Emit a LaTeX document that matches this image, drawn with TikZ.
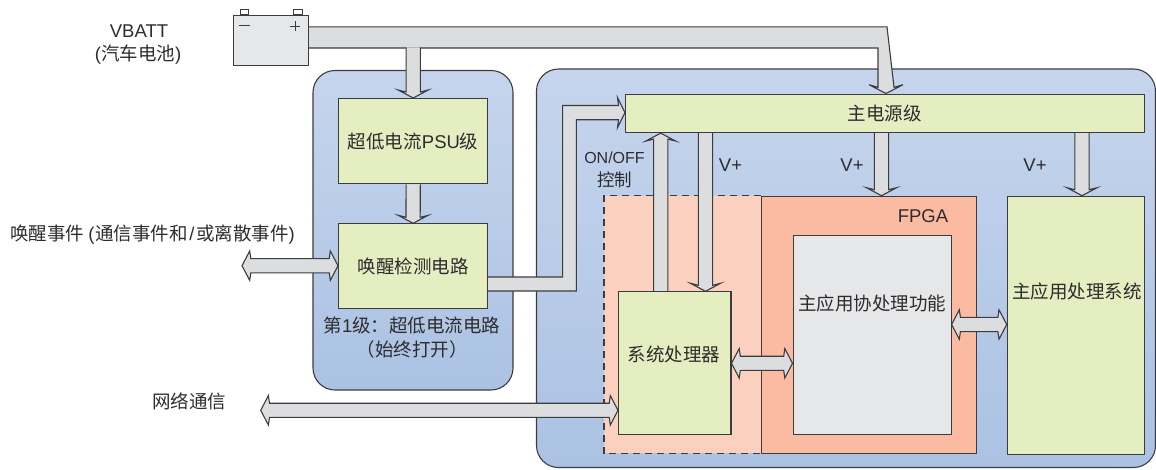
\documentclass[tikz,border=0pt]{standalone}
\usepackage{fontspec}
\setmainfont{Liberation Sans}
\newfontfamily\cjk{Noto Sans CJK SC}
\usetikzlibrary{calc}
\definecolor{ink}{HTML}{2E2C2D}
\definecolor{edge}{HTML}{3C3C3E}
\definecolor{pipegray}{HTML}{DCDDDF}
\definecolor{boxgreen}{HTML}{E5EEC0}
\definecolor{panelTop}{HTML}{C6D5ED}
\definecolor{panelBot}{HTML}{ABC2E3}
\definecolor{salmonA}{HTML}{FCD0BE}
\definecolor{salmonB}{HTML}{FBBBA3}
\definecolor{lightgray}{HTML}{E6E7E8}
\newcommand{\C}[1]{{\cjk #1}}
\pgfdeclarelayer{bg}
\pgfdeclarelayer{pipes}
\pgfsetlayers{bg,pipes,main}
\tikzset{
  pipepoly/.style={draw=edge,line width=1.1pt,fill=pipegray,line join=miter},
  greenbox/.style={draw=edge,line width=1.1pt,fill=boxgreen,inner sep=0pt,anchor=north west,text=ink},
  panel/.style={draw=edge,line width=1.1pt,rounded corners=22pt,top color=panelTop,bottom color=panelBot},
  lbl/.style={inner sep=0pt,text=ink,align=center},
  every node/.style={font=\fontsize{18.5}{24}\selectfont}
}
% single block arrow from named point #1 to named point #2
\newcommand{\pipeS}[2]{%
  \coordinate (hj) at ($(#2)!6pt!(#1)$);
  \coordinate (hw) at ($(#2)!8pt!(#1)$);
  \draw[pipepoly] ($(#1)!7.1pt!90:(#2)$) -- ($(hj)!7.1pt!-90:(#1)$) -- ($(hw)!15pt!-90:(#1)$) -- (#2)
    -- ($(hw)!15pt!90:(#1)$) -- ($(hj)!7.1pt!90:(#1)$) -- ($(#1)!7.1pt!-90:(#2)$);
}
% double block arrow between named points #1 and #2
\newcommand{\pipeD}[2]{%
  \coordinate (aj) at ($(#1)!8.8pt!(#2)$);
  \coordinate (aw) at ($(#1)!7.7pt!(#2)$);
  \coordinate (bj) at ($(#2)!8.8pt!(#1)$);
  \coordinate (bw) at ($(#2)!7.7pt!(#1)$);
  \draw[pipepoly] (#1) -- ($(aw)!14.7pt!90:(#2)$) -- ($(aj)!7.1pt!90:(#2)$) -- ($(bj)!7.1pt!-90:(#1)$) -- ($(bw)!14.7pt!-90:(#1)$)
    -- (#2) -- ($(bw)!14.7pt!90:(#1)$) -- ($(bj)!7.1pt!90:(#1)$) -- ($(aj)!7.1pt!-90:(#2)$) -- ($(aw)!14.7pt!-90:(#2)$) -- cycle;
}
\begin{document}
\begin{tikzpicture}[x=1pt,y=-1pt]
\useasboundingbox (0,0) rectangle (1156,469);
\begin{pgfonlayer}{bg}
  \path[panel] (313,70.5) rectangle (513,390);
  \path[panel] (536.5,69) rectangle (1155.5,467.5);
  \fill[salmonA] (604,195.7) rectangle (761,453.3);
  \draw[edge,line width=1.1pt,dash pattern=on 7pt off 5pt] (761,195.7) -- (604,195.7) -- (604,453.3) -- (761,453.3);
  \node[draw=edge,line width=1.1pt,fill=salmonB,inner sep=0pt,anchor=north west,minimum width=215.4pt,minimum height=257.6pt] (fpga) at (760.6,195.7) {};
\end{pgfonlayer}
% boxes
\node[greenbox,minimum width=149.3pt,minimum height=85.3pt] (psu) at (338,98) {\C{超低电流}PSU\C{级}};
\node[greenbox,minimum width=149pt,minimum height=84.7pt] (wake) at (338,223.3) {\C{唤醒检测电路}};
\node[greenbox,minimum width=518.5pt,minimum height=38.5pt] (mainps) at (625,93.5) {\C{主电源级}};
\node[greenbox,minimum width=112.4pt,minimum height=142.7pt] (sys) at (618,291.3) {};
\node[draw=edge,line width=1.1pt,fill=lightgray,inner sep=0pt,anchor=north west,minimum width=158pt,minimum height=199.3pt] (cop) at (792.5,235) {};
\node[greenbox,minimum width=137.3pt,minimum height=258.3pt] (app) at (1006.7,195.7) {};
% battery
\node[draw=edge,line width=1.1pt,fill=lightgray,inner sep=0pt,anchor=north west,minimum width=74.5pt,minimum height=50pt] (batt) at (233,14.7) {};
\draw[edge,line width=0.9pt,fill=white] (240,14.7) rectangle (248.7,9);
\draw[edge,line width=0.9pt,fill=white] (293.7,14.7) rectangle (302.3,9);
\draw[edge,line width=0.9pt] (239,25.7) -- (250,25.7);
\draw[edge,line width=0.9pt] (290,26) -- (300,26) (295,21) -- (295,31);
% connectors
\begin{pgfonlayer}{pipes}
  \coordinate (busA) at (batt.east |- 0,26.8);
  \coordinate (busB) at (batt.east |- 0,48);
  \draw[pipepoly]
    (busA) -- (887,26.8) -- (894,87.3) -- (903,84.7) -- (mainps.north -| 886,0) -- (869,84.7) -- (878,87.3) -- (878,48) -- (busB);
  \coordinate (tap) at (psu.north |- 0,47.4);
  \pipeS{tap}{psu.north}
  \pipeS{psu.south}{wake.north}
  \coordinate (wkA) at (wake.east |- 0,277);
  \coordinate (wkB) at (wake.east |- 0,291);
  \coordinate (mainin) at (mainps.west |- 0,112.7);
  \draw[pipepoly] (wkA) -- (562.6,277) -- (562.6,105.5) -- (618.5,105.5) -- (617.5,97.7) -- (mainin)
    -- (617.5,127.7) -- (618.5,119.7) -- (576.3,119.7) -- (576.3,291) -- (wkB);
  \coordinate (onS) at (sys.north -| 660.7,0);
  \coordinate (onM) at (mainps.south -| 660.7,0);
  \pipeS{onS}{onM}
  \coordinate (v1M) at (mainps.south -| 705.5,0);
  \coordinate (v1S) at (sys.north -| 705.5,0);
  \pipeS{v1M}{v1S}
  \coordinate (v2M) at (mainps.south -| 881.5,0);
  \coordinate (v2S) at (fpga.north -| 881.5,0);
  \pipeS{v2M}{v2S}
  \coordinate (v3M) at (mainps.south -| 1082,0);
  \coordinate (v3S) at (app.north -| 1082,0);
  \pipeS{v3M}{v3S}
  \coordinate (wakefree) at (242,265.7);
  \coordinate (wakeW) at (wake.west |- wakefree);
  \pipeD{wakefree}{wakeW}
  \coordinate (netfree) at (260.7,410.3);
  \coordinate (sysW) at (sys.west |- netfree);
  \pipeD{netfree}{sysW}
  \coordinate (sc) at (sys.east |- 0,363.3);
  \coordinate (copW) at (cop.west |- sc);
  \pipeD{sc}{copW}
  \coordinate (ca) at (cop.east |- 0,324.5);
  \coordinate (appW) at (app.west |- ca);
  \pipeD{ca}{appW}
\end{pgfonlayer}
% texts
\node[lbl] (vbatt) at (139,31) {VBATT};
\node[lbl] (vbattb) at (138,55) {(\C{汽车电池})};
\node[lbl] (wakeev) at (152.5,235) {\C{唤醒事件}\hspace{4pt}(\hspace{1pt}\C{通信事件和}\hspace{1.5pt}/\hspace{1.5pt}\C{或离散事件})};
\node[lbl] (netc) at (189,401) {\C{网络通信}};
\node[lbl] (stage) at (412,325) {\C{第}1\C{级：超低电流电路}};
\node[lbl] (always) at (412,349) {\C{（始终打开）}};
\node[lbl,font=\fontsize{16}{20}\selectfont] (onoff) at (614.5,158) {ON/OFF};
\node[lbl,font=\fontsize{17.5}{20}\selectfont] (ctrl) at (614.5,180) {\C{控制}};
\node[lbl] (vp1) at (730.5,165) {V+};
\node[lbl] (vp2) at (852,165) {V+};
\node[lbl] (vp3) at (1035,165) {V+};
\node[lbl] (fpgat) at (923,216) {FPGA};
\node[lbl] (syst) at (674,354) {\C{系统处理器}};
\node[lbl] (copt) at (872,303) {\C{主应用协处理功能}};
\node[lbl] (appt) at (1077,291.5) {\C{主应用处理系统}};
\end{tikzpicture}
\end{document}
